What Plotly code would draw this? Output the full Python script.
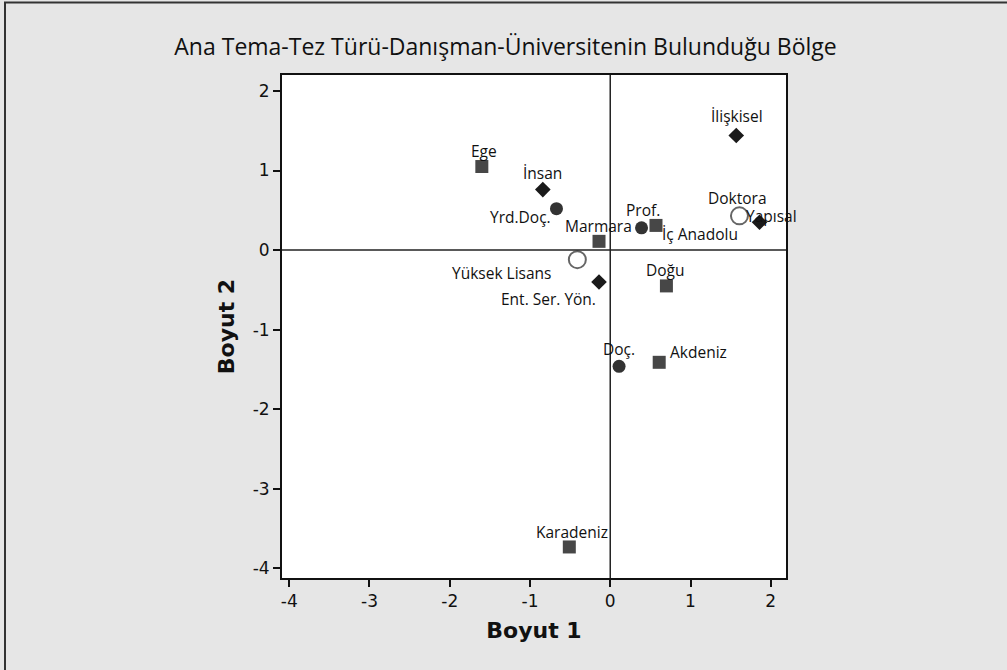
import plotly.graph_objects as go

# ---- data ----
bolge_names = ["Ege", "Marmara", "İç Anadolu", "Doğu", "Akdeniz", "Karadeniz"]
bolge_x = [-1.60, -0.14, 0.57, 0.70, 0.61, -0.51]
bolge_y = [1.05, 0.11, 0.31, -0.45, -1.41, -3.73]

tema_names = ["İnsan", "İlişkisel", "Yapısal", "Ent. Ser. Yön."]
tema_x = [-0.84, 1.57, 1.86, -0.14]
tema_y = [0.76, 1.44, 0.35, -0.40]

danisman_names = ["Yrd.Doç.", "Prof.", "Doç."]
danisman_x = [-0.67, 0.39, 0.11]
danisman_y = [0.52, 0.28, -1.46]

tez_names = ["Doktora", "Yüksek Lisans"]
tez_x = [1.61, -0.41]
tez_y = [0.43, -0.12]

x_ticks = [-4, -3, -2, -1, 0, 1, 2]
y_ticks = [-4, -3, -2, -1, 0, 1, 2]

# label placement (style): name -> (xanchor, xshift, yshift)
label_style = {
    "Ege": ("center", 2, 16),
    "Marmara": ("center", -1, 15),
    "İç Anadolu": ("left", 4, -9),
    "Doğu": ("center", -1, 16),
    "Akdeniz": ("left", 9, 10),
    "Karadeniz": ("center", 3, 15),
    "İnsan": ("center", 0, 17),
    "İlişkisel": ("center", 1, 19),
    "Yapısal": ("center", 12, 6),
    "Ent. Ser. Yön.": ("right", -1, -17),
    "Yrd.Doç.": ("right", -3, -8),
    "Prof.": ("center", 1, 18),
    "Doç.": ("center", 0, 17),
    "Doktora": ("center", -2, 18),
    "Yüksek Lisans": ("right", -24, -13),
}

fig = go.Figure()
fig.add_trace(go.Scatter(x=bolge_x, y=bolge_y, mode="markers", name="Bölge",
                         marker=dict(symbol="square", size=13, color="#474747"),
                         cliponaxis=False))
fig.add_trace(go.Scatter(x=tema_x, y=tema_y, mode="markers", name="Ana Tema",
                         marker=dict(symbol="diamond", size=12, color="#1a1a1a"),
                         cliponaxis=False))
fig.add_trace(go.Scatter(x=danisman_x, y=danisman_y, mode="markers", name="Danışman",
                         marker=dict(symbol="circle", size=13, color="#333333"),
                         cliponaxis=False))
fig.add_trace(go.Scatter(x=tez_x, y=tez_y, mode="markers", name="Tez Türü",
                         marker=dict(symbol="circle", size=17, color="white",
                                     line=dict(color="#666666", width=2)),
                         cliponaxis=False))

annotations = []
for names, xs, ys in [(bolge_names, bolge_x, bolge_y), (tema_names, tema_x, tema_y),
                      (danisman_names, danisman_x, danisman_y), (tez_names, tez_x, tez_y)]:
    for n, xv, yv in zip(names, xs, ys):
        xa, xs_, ys_ = label_style[n]
        annotations.append(dict(x=xv, y=yv, xref="x", yref="y", text=n, showarrow=False,
                                xanchor=xa, yanchor="middle", xshift=xs_, yshift=ys_,
                                font=dict(family="Open Sans", size=15.5, color="#111111")))

fig.update_layout(
    width=1007, height=670,
    margin=dict(l=282, r=221, t=75, b=92),
    paper_bgcolor="#e6e6e6",
    plot_bgcolor="white",
    showlegend=False,
    title=dict(text="Ana Tema-Tez Türü-Danışman-Üniversitenin Bulunduğu Bölge",
               x=0.502, xanchor="center", y=1 - 47 / 670, yanchor="middle",
               font=dict(family="Open Sans", size=23, color="#111111")),
    annotations=annotations,
    shapes=[
        dict(type="line", xref="x", yref="paper", x0=0, x1=0, y0=0, y1=1,
             line=dict(color="#222222", width=1.5)),
        dict(type="line", xref="paper", yref="y", x0=0, x1=1, y0=0, y1=0,
             line=dict(color="#222222", width=1.5)),
        dict(type="rect", xref="paper", yref="paper",
             x0=(5 - 282) / 504, x1=(1012 - 282) / 504,
             y0=(578 - 675) / 503, y1=(578 - 2.5) / 503,
             line=dict(color="#333333", width=2), layer="below"),
    ],
)

fig.update_xaxes(range=[-4.09, 2.19], tickvals=x_ticks, ticktext=[str(v) for v in x_ticks],
                 showgrid=False, zeroline=False, showline=True, mirror=True,
                 linecolor="#111111", linewidth=2, ticks="outside", ticklen=7,
                 tickcolor="#111111", tickwidth=1.5,
                 tickfont=dict(family="DejaVu Sans", size=17, color="#111111"),
                 title=dict(text="<b>Boyut 1</b>", standoff=12,
                            font=dict(family="DejaVu Sans", size=22, color="#111111")))
fig.update_yaxes(range=[-4.12, 2.2], tickvals=y_ticks, ticktext=[str(v) for v in y_ticks],
                 showgrid=False, zeroline=False, showline=True, mirror=True,
                 linecolor="#111111", linewidth=2, ticks="outside", ticklen=7,
                 tickcolor="#111111", tickwidth=1.5,
                 tickfont=dict(family="DejaVu Sans", size=17, color="#111111"),
                 title=dict(text="<b>Boyut 2</b>", standoff=12,
                            font=dict(family="DejaVu Sans", size=22, color="#111111")))

fig.write_html("out.html", config={"displayModeBar": False},
               post_script="document.body.style.margin='0';")
